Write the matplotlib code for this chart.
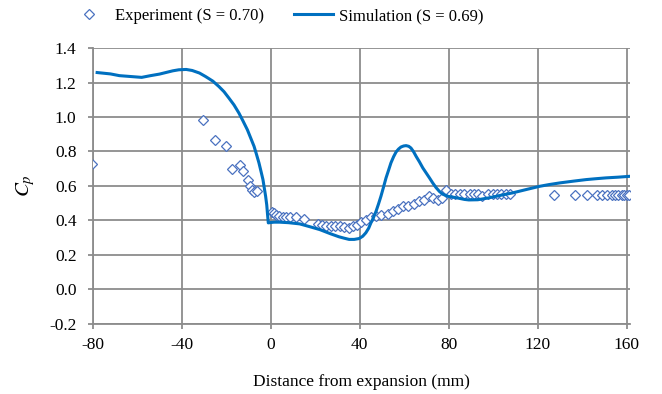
import matplotlib
matplotlib.use("Agg")
import matplotlib.pyplot as plt

plt.rcParams['font.family'] = ['Liberation Serif', 'DejaVu Serif']
plt.rcParams['mathtext.fontset'] = 'stix'
plt.rcParams['axes.unicode_minus'] = False

# simulation (S = 0.69)
sim_x = [-78, -72, -68, -63, -58, -54, -50, -44, -41.3, -38, -35.3, -32, -29.3,
         -26, -23.3, -21, -18.8, -16.5, -14.3, -12.5, -10.5, -9, -7.5, -6.4,
         -5.3, -4.4, -3.5, -2.9, -2.3, -1.8, -1.5, -1.1, 0, 1.5, 4, 8, 13, 18,
         22, 27, 30.7, 33, 35.2, 37.5, 39.7, 41.3, 42.7, 44, 45, 46.2, 47.3,
         48.4, 49.5, 50.7, 51.8, 53, 54, 55.2, 56.3, 57.4, 58.5, 59.7, 60.8,
         62, 63, 64.2, 65.3, 66.8, 68.3, 69.8, 71.3, 72.8, 74.3, 75.8, 77.3,
         79.6, 82, 84.8, 87, 89, 93, 98, 103, 108.7, 115, 120.8, 125, 130, 136,
         141.7, 146, 150.7, 156, 161.3]
sim_y = [1.258, 1.25, 1.24, 1.235, 1.23, 1.24, 1.249, 1.268, 1.274, 1.276, 1.27,
         1.255, 1.235, 1.208, 1.177, 1.147, 1.11, 1.07, 1.023, 0.978, 0.926,
         0.878, 0.83, 0.783, 0.734, 0.686, 0.637, 0.588, 0.54, 0.49, 0.444,
         0.386, 0.388, 0.39, 0.39, 0.387, 0.38, 0.362, 0.347, 0.322, 0.305,
         0.297, 0.29, 0.29, 0.295, 0.308, 0.328, 0.355, 0.386, 0.418, 0.453,
         0.495, 0.54, 0.595, 0.647, 0.694, 0.734, 0.77, 0.797, 0.814, 0.826,
         0.832, 0.834, 0.83, 0.82, 0.798, 0.772, 0.74, 0.705, 0.676, 0.647,
         0.617, 0.59, 0.568, 0.552, 0.54, 0.535, 0.528, 0.522, 0.519, 0.52,
         0.531, 0.545, 0.56, 0.58, 0.598, 0.608, 0.618, 0.628, 0.637, 0.642,
         0.647, 0.651, 0.656]

# experiment (S = 0.70)
exp_x = [-80.3, -30.3, -25.2, -20.3, -17.3, -14, -12.5, -10.2, -9.3, -8.3, -7.5,
         -6, 0.5, 1.3, 2.4, 3.9, 5.4, 6.9, 8.8, 11.4, 14.8, 21.1, 23, 25, 27, 29,
         31, 33, 35, 37, 38.9, 40.5, 42.8, 45, 47.3, 49.5, 52.5, 54.8, 57, 59.3,
         61.5, 64.2, 66.8, 69, 71.3, 72.8, 75, 76.9, 78.8, 81, 83, 85.1, 87,
         89.3, 91.2, 93, 95, 97.5, 99.8, 101.6, 103.6, 105.8, 107.3, 127.1,
         136.6, 141.9, 146.4, 148.6, 150.9, 153.2, 154.6, 156.1, 157.7, 158.7,
         159.9, 161.1]
exp_y = [0.73, 0.98, 0.865, 0.83, 0.70, 0.724, 0.685, 0.633, 0.598, 0.575, 0.565,
         0.57, 0.45, 0.444, 0.434, 0.425, 0.42, 0.42, 0.42, 0.42, 0.41, 0.38,
         0.375, 0.37, 0.37, 0.365, 0.365, 0.36, 0.357, 0.37, 0.376, 0.392, 0.405,
         0.419, 0.425, 0.434, 0.438, 0.453, 0.469, 0.482, 0.486, 0.496, 0.511,
         0.521, 0.54, 0.531, 0.521, 0.531, 0.579, 0.554, 0.554, 0.554, 0.554,
         0.554, 0.554, 0.554, 0.54, 0.554, 0.554, 0.554, 0.554, 0.554, 0.554,
         0.55, 0.55, 0.55, 0.55, 0.55, 0.55, 0.55, 0.55, 0.55, 0.55, 0.55,
         0.55, 0.55]

x_ticks = [-80, -40, 0, 40, 80, 120, 160]
y_ticks = [-0.2, 0.0, 0.2, 0.4, 0.6, 0.8, 1.0, 1.2, 1.4]

fig = plt.figure(figsize=(6.62, 3.94), dpi=100)
ax = fig.add_axes([0.140, 0.178, 0.812, 0.700])

grid_col = '#8c8c8c'
ax.plot(exp_x, exp_y, linestyle='none', marker='D', markersize=5,
        markerfacecolor='white', markeredgecolor='#4a72c0', markeredgewidth=0.9,
        label='Experiment (S = 0.70)', zorder=3)
ax.plot(sim_x, sim_y, color='#0070c0', linewidth=2.2,
        label='Simulation (S = 0.69)', zorder=4)

ax.set_xlim(-80, 161.5)
ax.set_ylim(-0.2, 1.4)
ax.set_xticks(x_ticks)
ax.set_yticks(y_ticks)
ax.set_yticklabels([f'{v:.1f}' for v in y_ticks])
ax.grid(True, color=grid_col, linewidth=1.3)
ax.set_axisbelow(True)
for s in ['top', 'right']:
    ax.spines[s].set_visible(False)
for s in ['left', 'bottom']:
    ax.spines[s].set_color(grid_col)
    ax.spines[s].set_linewidth(1.3)
ax.tick_params(axis='both', colors=grid_col, labelcolor='black', labelsize=12.5,
               length=3.6, width=1.3)
ax.tick_params(axis='y', pad=8)
ax.tick_params(axis='x', pad=6)

ax.set_xlabel('Distance from expansion (mm)', fontsize=12.5, labelpad=15)
ax.set_ylabel('$C_p$', fontsize=15, labelpad=9)

fig.legend(loc='center left', bbox_to_anchor=(0.106, 0.959), ncol=2,
           frameon=False, fontsize=12, borderpad=0, borderaxespad=0,
           handlelength=2.3, columnspacing=1.8, handletextpad=0.4)

fig.savefig('out.png', dpi=100)
